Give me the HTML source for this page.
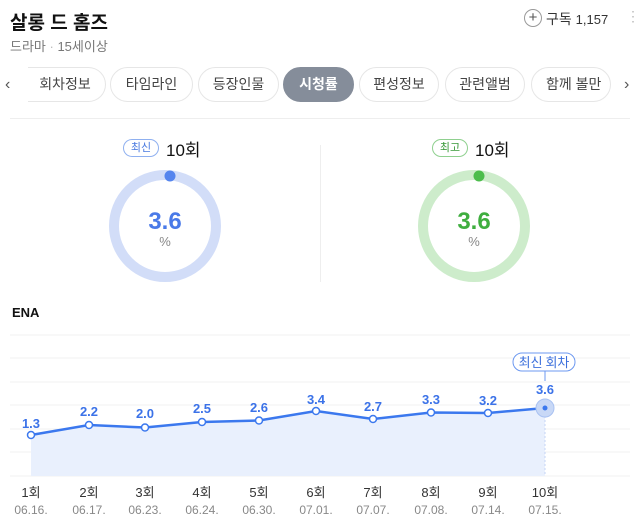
<!DOCTYPE html>
<html><head><meta charset="utf-8"><style>
*{margin:0;padding:0;box-sizing:border-box}
body{width:640px;height:523px;background:#fff;font-family:"Liberation Sans","Noto Sans CJK KR",sans-serif;position:relative;overflow:hidden;color:#222}
.a{position:absolute;white-space:nowrap}
.tab{position:absolute;top:67px;height:35px;border:1px solid #e6e6e6;border-radius:18px;background:#fff;font-size:14px;color:#444;text-align:center;line-height:33px}
</style></head><body>
<div class="a" style="left:10px;top:8px;font-size:19px;font-weight:bold;color:#111">살롱 드 홈즈</div>
<div class="a" style="left:10px;top:36px;font-size:13px;color:#777">드라마 <span style="color:#bbb">·</span> 15세이상</div>
<div class="a" style="left:524px;top:9px;width:18px;height:18px;border:1px solid #999;border-radius:50%;font-size:15px;line-height:15px;text-align:center;color:#555">+</div>
<div class="a" style="left:546px;top:9px;font-size:14px;color:#333">구독 <span style="font-size:13px">1,157</span></div>
<div class="a" style="left:626px;top:8px;font-size:14px;color:#bbb">⋮</div>

<div class="tab" style="left:25px;width:81px;border-left:none;border-radius:0 18px 18px 0">회차정보</div>
<div class="tab" style="left:110px;width:83px">타임라인</div>
<div class="tab" style="left:198px;width:81px">등장인물</div>
<div class="tab" style="left:283px;width:71px;background:#858d9a;border-color:#858d9a;color:#fff;font-weight:bold">시청률</div>
<div class="tab" style="left:359px;width:80px">편성정보</div>
<div class="tab" style="left:445px;width:80px">관련앨범</div>
<div class="tab" style="left:531px;width:80px;text-align:left;padding-left:14px;overflow:hidden">함께 볼만한</div>
<div class="a" style="left:0;top:64px;width:28px;height:42px;background:#fff"></div>
<div class="a" style="left:5px;top:76px;font-size:16px;color:#555">‹</div>
<div class="a" style="left:612px;top:64px;width:28px;height:42px;background:linear-gradient(90deg,rgba(255,255,255,.6),#fff 40%)"></div>
<div class="a" style="left:624px;top:76px;font-size:16px;color:#555">›</div>
<div class="a" style="left:10px;top:118px;width:620px;height:1px;background:#eee"></div>

<div class="a" style="left:123px;top:139px;width:36px;height:18px;border:1px solid #8fb0f0;border-radius:9px;font-size:11px;color:#4a7ae0;text-align:center;line-height:16px">최신</div>
<div class="a" style="left:166px;top:136px;font-size:17px;color:#111">10회</div>
<div class="a" style="left:432px;top:139px;width:36px;height:18px;border:1px solid #8fd08f;border-radius:9px;font-size:11px;color:#3a9a3a;text-align:center;line-height:16px">최고</div>
<div class="a" style="left:475px;top:136px;font-size:17px;color:#111">10회</div>
<div class="a" style="left:320px;top:145px;width:1px;height:137px;background:#eee"></div>

<svg class="a" style="left:0;top:0" width="640" height="523">
<circle cx="165" cy="226" r="51" fill="none" stroke="#d2ddf8" stroke-width="10"/>
<circle cx="170" cy="176" r="5.5" fill="#5585ee"/>
<circle cx="474" cy="226" r="51" fill="none" stroke="#cdeccb" stroke-width="10"/>
<circle cx="479" cy="176" r="5.5" fill="#4cbd4c"/>
<text x="165" y="229" text-anchor="middle" font-size="24" font-weight="bold" fill="#4a7ae8" font-family="Liberation Sans">3.6</text>
<text x="165" y="246" text-anchor="middle" font-size="13" fill="#888" font-family="Liberation Sans">%</text>
<text x="474" y="229" text-anchor="middle" font-size="24" font-weight="bold" fill="#3fae3f" font-family="Liberation Sans">3.6</text>
<text x="474" y="246" text-anchor="middle" font-size="13" fill="#888" font-family="Liberation Sans">%</text>

<text x="12" y="317" font-size="13" font-weight="bold" fill="#111" font-family="Liberation Sans">ENA</text>
<g stroke="#f0f0f0" stroke-width="1">
<line x1="10" y1="335" x2="630" y2="335"/><line x1="10" y1="358" x2="630" y2="358"/>
<line x1="10" y1="382" x2="630" y2="382"/><line x1="10" y1="405" x2="630" y2="405"/>
<line x1="10" y1="429" x2="630" y2="429"/><line x1="10" y1="452" x2="630" y2="452"/>
<line x1="10" y1="476" x2="630" y2="476"/></g>
<polygon points="31,435 89,425 145,427.5 202,422 259,420.5 316,411 373,419 431,412.5 488,413 545,408 545,476 31,476" fill="#e9f0fd"/>
<line x1="545" y1="408" x2="545" y2="476" stroke="#c5d5f5" stroke-dasharray="2,2"/>
<polyline points="31,435 89,425 145,427.5 202,422 259,420.5 316,411 373,419 431,412.5 488,413 545,408" fill="none" stroke="#3b78ee" stroke-width="2.5"/>
<g fill="#fff" stroke="#3b78ee" stroke-width="1.5">
<circle cx="31" cy="435" r="3.5"/><circle cx="89" cy="425" r="3.5"/><circle cx="145" cy="427.5" r="3.5"/>
<circle cx="202" cy="422" r="3.5"/><circle cx="259" cy="420.5" r="3.5"/><circle cx="316" cy="411" r="3.5"/>
<circle cx="373" cy="419" r="3.5"/><circle cx="431" cy="412.5" r="3.5"/><circle cx="488" cy="413" r="3.5"/></g>
<circle cx="545" cy="408" r="9" fill="#c8d8f6" stroke="#a9c2f2"/>
<circle cx="545" cy="408" r="2.5" fill="#3b78ee"/>
<line x1="545" y1="371" x2="545" y2="381" stroke="#6c98f0"/>
<rect x="513" y="353" width="62" height="18" rx="9" fill="#fff" stroke="#6c98f0"/>
<text x="544" y="367" text-anchor="middle" font-size="13" fill="#3b6fdc" font-family="Noto Sans CJK KR">최신 회차</text>
<g font-size="13" font-weight="bold" fill="#3b72e8" text-anchor="middle" font-family="Liberation Sans">
<text x="31" y="428">1.3</text><text x="89" y="416">2.2</text><text x="145" y="418">2.0</text>
<text x="202" y="413">2.5</text><text x="259" y="412">2.6</text><text x="316" y="404">3.4</text>
<text x="373" y="411">2.7</text><text x="431" y="404">3.3</text><text x="488" y="405">3.2</text>
<text x="545" y="394">3.6</text></g>
<g font-size="13" fill="#333" text-anchor="middle" font-family="Liberation Sans,Noto Sans CJK KR">
<text x="31" y="497">1회</text><text x="89" y="497">2회</text><text x="145" y="497">3회</text>
<text x="202" y="497">4회</text><text x="259" y="497">5회</text><text x="316" y="497">6회</text>
<text x="373" y="497">7회</text><text x="431" y="497">8회</text><text x="488" y="497">9회</text>
<text x="545" y="497">10회</text></g>
<g font-size="12" fill="#888" text-anchor="middle" font-family="Liberation Sans">
<text x="31" y="514">06.16.</text><text x="89" y="514">06.17.</text><text x="145" y="514">06.23.</text>
<text x="202" y="514">06.24.</text><text x="259" y="514">06.30.</text><text x="316" y="514">07.01.</text>
<text x="373" y="514">07.07.</text><text x="431" y="514">07.08.</text><text x="488" y="514">07.14.</text>
<text x="545" y="514">07.15.</text></g>
</svg>
</body></html>
